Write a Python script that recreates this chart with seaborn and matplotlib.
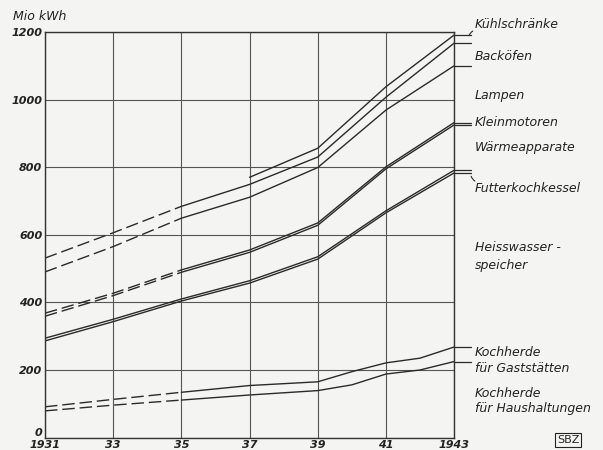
import matplotlib
matplotlib.use('Agg')
import matplotlib.pyplot as plt
import seaborn as sns

# years
years = [1931, 1933, 1935, 1937, 1939, 1941, 1943]
koch_years = [1931, 1933, 1935, 1937, 1939, 1940, 1941, 1942, 1943]
kuehl_years = [1937, 1939, 1941, 1943]

# upper boundary of each (stacked) band, Mio kWh
kuehlschraenke = [770, 856, 1038, 1191]
backoefen = [531, 606, 684, 749, 830, 1007, 1167]
lampen = [490, 565, 649, 711, 799, 969, 1100]
kleinmotoren = [368, 427, 496, 555, 635, 801, 932]
waermeapparate = [359, 420, 489, 548, 628, 795, 925]
futterkochkessel = [294, 350, 410, 464, 535, 671, 791]
heisswasser = [286, 343, 404, 457, 528, 665, 783]
koch_gaststaetten = [91, 113, 134, 154, 165, 195, 221, 235, 268]
koch_haushalt = [79, 96, 111, 126, 139, 156, 188, 200, 225]

# (years, values, dashed until 1935?)
series = [
    (kuehl_years, kuehlschraenke, False),
    (years, backoefen, True),
    (years, lampen, True),
    (years, kleinmotoren, True),
    (years, waermeapparate, True),
    (years, futterkochkessel, False),
    (years, heisswasser, False),
    (koch_years, koch_gaststaetten, True),
    (koch_years, koch_haushalt, True),
]

labels = [
    ('Kühlschränke', 1221),
    ('Backöfen', 1126),
    ('Lampen', 1013),
    ('Kleinmotoren', 931),
    ('Wärmeapparate', 859),
    ('Futterkochkessel', 738),
    ('Heisswasser -', 561),
    ('speicher', 508),
    ('Kochherde', 253),
    ('für Gaststätten', 203),
    ('Kochherde', 129),
    ('für Haushaltungen', 85),
]

y_ticks = [0, 200, 400, 600, 800, 1000, 1200]
x_ticks = [1931, 1933, 1935, 1937, 1939, 1941, 1943]
x_ticklabels = ['1931', '33', '35', '37', '39', '41', '1943']

sns.set_style('white')
plt.rcParams['font.family'] = ['DejaVu Sans']
bg = '#f4f4f2'

fig = plt.figure(figsize=(6.03, 4.5), dpi=100, facecolor=bg)
ax = fig.add_axes([0.0746, 0.0276, 0.6786, 0.9014])
ax.set_facecolor(bg)

ink = '#2a2a2a'
for xs, ys, dashed in series:
    if dashed:
        cut = xs.index(1935)
        sns.lineplot(x=xs[:cut + 1], y=ys[:cut + 1], ax=ax, color=ink, lw=1.0,
                     linestyle=(0, (9, 3.5)))
        sns.lineplot(x=xs[cut:], y=ys[cut:], ax=ax, color=ink, lw=1.0)
    else:
        sns.lineplot(x=xs, y=ys, ax=ax, color=ink, lw=1.0)
    # short tick at the line end, leading to the labels
    ax.plot([xs[-1], xs[-1] + 0.5], [ys[-1], ys[-1]], color=ink, lw=0.9,
            clip_on=False)

ax.set_xlim(1931, 1943)
ax.set_ylim(0, 1200)
ax.set_xticks(x_ticks)
ax.set_xticklabels(x_ticklabels)
ax.set_yticks(y_ticks)
ax.grid(True, color='#555555', lw=0.8)
for s in ax.spines.values():
    s.set_color('#333333')
    s.set_linewidth(1.0)
ax.tick_params(length=0, pad=2, labelsize=8, labelcolor='#222222')
for t in ax.get_xticklabels() + ax.get_yticklabels():
    t.set_fontstyle('italic')
    t.set_fontweight('bold')
# the "0" sits a little above the axis, clear of "1931"
ax.get_yticklabels()[0].set_verticalalignment('bottom')
ax.set_xlabel('')
ax.set_ylabel('')

fig.text(13 / 603, 1 - 16 / 450, 'Mio kWh', fontsize=9, style='italic',
         color='#222222', va='center')

for text, yv in labels:
    ax.text(1943.6, yv, text, fontsize=9, style='italic', color='#222222',
            va='center', ha='left', clip_on=False)

# little hooks to Kühlschränke and Futterkochkessel
ax.annotate('', xy=(1943.42, kuehlschraenke[-1] - 8), xytext=(1943.62, 1206),
            arrowprops=dict(arrowstyle='-', color=ink, lw=0.8,
                            connectionstyle='arc3,rad=0.3'),
            annotation_clip=False)
ax.annotate('', xy=(1943.48, futterkochkessel[-1] - 10), xytext=(1943.68, 755),
            arrowprops=dict(arrowstyle='-', color=ink, lw=0.8,
                            connectionstyle='arc3,rad=-0.3'),
            annotation_clip=False)

fig.text(568 / 603, 1 - 440 / 450, 'SBZ', fontsize=8, color='#222222',
         ha='center', va='center',
         bbox=dict(boxstyle='square,pad=0.2', fc=bg, ec='#222222', lw=0.8))

fig.savefig('out.png', dpi=100, facecolor=bg)
